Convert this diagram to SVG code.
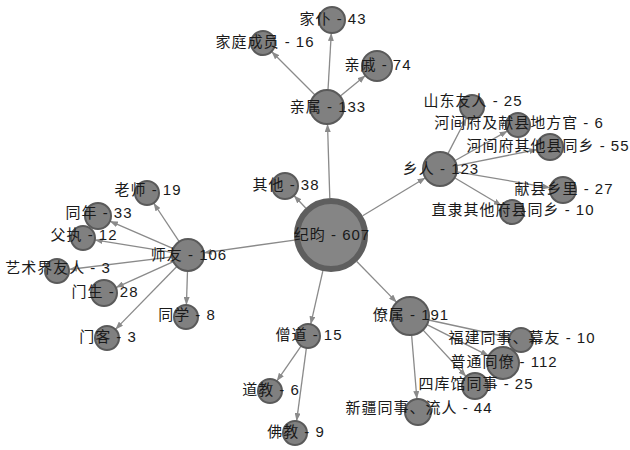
<svg xmlns="http://www.w3.org/2000/svg" width="630" height="450" viewBox="0 0 630 450">
<style>
.e{stroke:#8a8a8a;stroke-width:1.3;fill:none;marker-end:url(#ar)}
.n{fill:#808080;stroke:#5a5a5a;stroke-width:2}
.hub{fill:#858585;stroke:#5e5e5e;stroke-width:6}
text{font-family:"Liberation Sans","Noto Sans CJK SC",sans-serif;font-size:15px;fill:#1a1a1a;text-anchor:middle;letter-spacing:1px}
</style>
<defs>
<marker id="ar" markerUnits="userSpaceOnUse" markerWidth="8" markerHeight="6" refX="8" refY="3" orient="auto">
<path d="M0,0 L8,3 L0,6 z" fill="#8a8a8a"/>
</marker>
</defs>
<rect width="630" height="450" fill="#ffffff"/>
<g id="connectors">
<line class="e" x1="329.8" y1="198" x2="327.5" y2="124"/>
<line class="e" x1="305.7" y1="208" x2="293.9" y2="195.5"/>
<line class="e" x1="362.7" y1="215.8" x2="425.5" y2="177.8"/>
<line class="e" x1="294.4" y1="240.1" x2="203.8" y2="252.8"/>
<line class="e" x1="322.8" y1="271.1" x2="310.7" y2="324.3"/>
<line class="e" x1="356.8" y1="261.5" x2="396.7" y2="302.4"/>
<line class="e" x1="328" y1="90" x2="331.3" y2="33"/>
<line class="e" x1="315" y1="95" x2="271.5" y2="51.5"/>
<line class="e" x1="340.1" y1="96.2" x2="365.4" y2="75.5"/>
<line class="e" x1="447.8" y1="153.9" x2="466.5" y2="117.7"/>
<line class="e" x1="454.8" y1="160.7" x2="507.6" y2="130.9"/>
<line class="e" x1="456.7" y1="165.7" x2="537.3" y2="149.5"/>
<line class="e" x1="456.8" y1="171.9" x2="550.2" y2="187.8"/>
<line class="e" x1="454.6" y1="177.7" x2="501.7" y2="205.8"/>
<line class="e" x1="179.2" y1="241.7" x2="153.6" y2="203"/>
<line class="e" x1="173.3" y1="248.6" x2="109.9" y2="221.2"/>
<line class="e" x1="172.2" y1="252.4" x2="94.8" y2="239.9"/>
<line class="e" x1="172.1" y1="256.9" x2="68.9" y2="269.5"/>
<line class="e" x1="173.4" y1="261.6" x2="115.8" y2="287.6"/>
<line class="e" x1="187.5" y1="271" x2="186.4" y2="305"/>
<line class="e" x1="176.8" y1="266.5" x2="115.4" y2="329.4"/>
<line class="e" x1="301.2" y1="345.9" x2="276.8" y2="381.1"/>
<line class="e" x1="306.4" y1="347.9" x2="296.6" y2="421.1"/>
<line class="e" x1="428.6" y1="320" x2="509.3" y2="337.5"/>
<line class="e" x1="427" y1="324.6" x2="488.7" y2="355.8"/>
<line class="e" x1="422.9" y1="329.9" x2="466.1" y2="376.5"/>
<line class="e" x1="411.6" y1="334.9" x2="416.9" y2="399"/>
</g>
<g id="n-jiyun"><circle class="hub" cx="331" cy="235" r="34"/><text x="332" y="240">纪昀 - 607</text></g>
<g id="n-qinshu"><circle class="n" cx="327" cy="107" r="17"/><text x="328" y="112">亲属 - 133</text></g>
<g id="n-jiapu"><circle class="n" cx="332" cy="20" r="13"/><text x="333" y="24">家仆 - 43</text></g>
<g id="n-jiating"><circle class="n" cx="263" cy="43" r="12"/><text x="265" y="47">家庭成员 - 16</text></g>
<g id="n-qinqi"><circle class="n" cx="377" cy="66" r="15"/><text x="378" y="70">亲戚 - 74</text></g>
<g id="n-xiangren"><circle class="n" cx="440" cy="169" r="17"/><text x="441" y="174">乡人 - 123</text></g>
<g id="n-shandong"><circle class="n" cx="472" cy="107" r="12"/><text x="473" y="106">山东友人 - 25</text></g>
<g id="n-hejian1"><circle class="n" cx="518" cy="125" r="12"/><text x="519" y="128">河间府及献县地方官 - 6</text></g>
<g id="n-hejian2"><circle class="n" cx="550" cy="147" r="13"/><text x="548" y="151">河间府其他县同乡 - 55</text></g>
<g id="n-xianxian"><circle class="n" cx="563" cy="190" r="13"/><text x="564" y="194">献县乡里 - 27</text></g>
<g id="n-zhili"><circle class="n" cx="512" cy="212" r="12"/><text x="513" y="215">直隶其他府县同乡 - 10</text></g>
<g id="n-shiyou"><circle class="n" cx="188" cy="255" r="16"/><text x="189" y="260">师友 - 106</text></g>
<g id="n-laoshi"><circle class="n" cx="147" cy="193" r="12"/><text x="148" y="195">老师 - 19</text></g>
<g id="n-tongnian"><circle class="n" cx="98" cy="216" r="13"/><text x="99" y="218">同年 - 33</text></g>
<g id="n-fuzhi"><circle class="n" cx="83" cy="238" r="12"/><text x="84" y="240">父执 - 12</text></g>
<g id="n-yishu"><circle class="n" cx="57" cy="271" r="12"/><text x="58" y="273">艺术界友人 - 3</text></g>
<g id="n-mensheng"><circle class="n" cx="104" cy="293" r="13"/><text x="105" y="297">门生 - 28</text></g>
<g id="n-tongxue"><circle class="n" cx="186" cy="317" r="12"/><text x="187" y="320">同学 - 8</text></g>
<g id="n-menke"><circle class="n" cx="107" cy="338" r="12"/><text x="108" y="342">门客 - 3</text></g>
<g id="n-qita"><circle class="n" cx="285" cy="186" r="13"/><text x="286" y="190">其他 - 38</text></g>
<g id="n-sengdao"><circle class="n" cx="308" cy="336" r="12"/><text x="309" y="340">僧道 - 15</text></g>
<g id="n-daojiao"><circle class="n" cx="270" cy="391" r="12"/><text x="271" y="395">道教 - 6</text></g>
<g id="n-fojiao"><circle class="n" cx="295" cy="433" r="12"/><text x="296" y="437">佛教 - 9</text></g>
<g id="n-liaoshu"><circle class="n" cx="410" cy="316" r="19"/><text x="411" y="320">僚属 - 191</text></g>
<g id="n-putong"><circle class="n" cx="503" cy="363" r="16"/><text x="504" y="367">普通同僚 - 112</text></g>
<g id="n-fujian"><circle class="n" cx="521" cy="340" r="12"/><text x="522" y="343">福建同事、幕友 - 10</text></g>
<g id="n-siku"><circle class="n" cx="475" cy="386" r="13"/><text x="476" y="389">四库馆同事 - 25</text></g>
<g id="n-xinjiang"><circle class="n" cx="418" cy="412" r="13"/><text x="419" y="413">新疆同事、流人 - 44</text></g>
</svg>
